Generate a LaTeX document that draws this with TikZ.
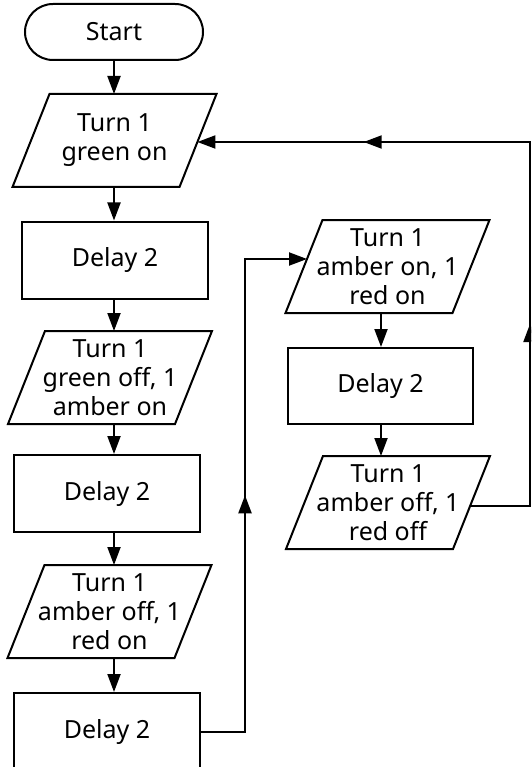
\documentclass[tikz,border=0pt]{standalone}
\usepackage{fontspec}
\setmainfont{Noto Sans}
\usetikzlibrary{arrows.meta,calc}
\newcommand\drawio[1]{\draw[line] ($(#1.north west)+(18.5,0)$) -- ($(#1.north east)+(18.5,0)$) -- ($(#1.south east)+(-18.5,0)$) -- ($(#1.south west)+(-18.5,0)$) -- cycle;}
\begin{document}
\begin{tikzpicture}[x=1pt,y=-1pt,
  every node/.style={font=\fontsize{25}{29}\selectfont, align=center, line width=2pt},
  line/.style={line width=2pt, line join=miter},
  arr/.style={line width=2pt, -{Triangle[length=18pt,width=13pt]}},
  termbox/.style={draw, rectangle, rounded corners=28pt, minimum width=178pt, minimum height=56pt, inner sep=0pt},
  procbox/.style={draw, rectangle, minimum width=186pt, minimum height=77pt, inner sep=0pt},
  iobox/.style={rectangle, minimum width=165pt, minimum height=91pt, inner sep=0pt}]
\useasboundingbox (0,0) rectangle (531,767);
\fill[white] (0,0) rectangle (531,767);
\clip (0,0) rectangle (531,767);
\coordinate (colL) at (114,0);
\coordinate (colR) at (381,0);
\coordinate (colM) at (245,0);
\coordinate (colE) at (530,0);
\node[termbox] (start) at (114,32) {Start};
\node[iobox] (p1) at (114.5,140.5) {Turn 1\\green on};
\node[procbox] (d1) at (115,260) {Delay 2};
\node[iobox] (p2) at (110,377.5) {Turn 1\\green off, 1\\amber on};
\node[procbox] (d2) at (107,493.5) {Delay 2};
\node[iobox] (p3) at (109.5,611.5) {Turn 1\\amber off, 1\\red on};
\node[procbox] (d3) at (107,731.5) {Delay 2};
\node[iobox] (p4) at (387.5,266.5) {Turn 1\\amber on, 1\\red on};
\node[procbox, minimum width=185pt, minimum height=76pt] (d4) at (380.5,386) {Delay 2};
\node[iobox] (p5) at (388,502.5) {Turn 1\\amber off, 1\\red off};
\drawio{p1}
\drawio{p2}
\drawio{p3}
\drawio{p4}
\drawio{p5}
\coordinate (p4in) at ($(p4.west)+(3,-7.5)$);
\coordinate (p5out) at ($(p5.east)+(-1.4,3.5)$);
\coordinate (p1in) at ($(p1.east)+(-0.6,1.5)$);
% main column
\draw[arr] (start.south -| colL) -- (p1.north -| colL);
\draw[arr] (p1.south -| colL) -- (d1.north -| colL);
\draw[arr] (d1.south -| colL) -- (p2.north -| colL);
\draw[arr] (p2.south -| colL) -- (d2.north -| colL);
\draw[arr] (d2.south -| colL) -- (p3.north -| colL);
\draw[arr] (p3.south -| colL) -- (d3.north -| colL);
% right column
\draw[arr] (p4.south -| colR) -- (d4.north -| colR);
\draw[arr] (d4.south -| colR) -- (p5.north -| colR);
% d3 -> p4
\draw[arr] (d3.east) -- (d3.east -| colM) -- (p4in -| colM) -- (p4in);
\draw[arr] (d3.east -| colM) -- ($(d3.east -| colM)!0.5!(p4in -| colM)$);
% p5 -> p1
\draw[arr] (p5out) -- (p5out -| colE) -- (colE |- p1in) -- (p1in);
\draw[arr] (p5out -| colE) -- ($(p5out -| colE)!0.5!(colE |- p1in)$);
\draw[arr] (colE |- p1in) -- ($(colE |- p1in)!0.5!(p1in)$);
\end{tikzpicture}
\end{document}
